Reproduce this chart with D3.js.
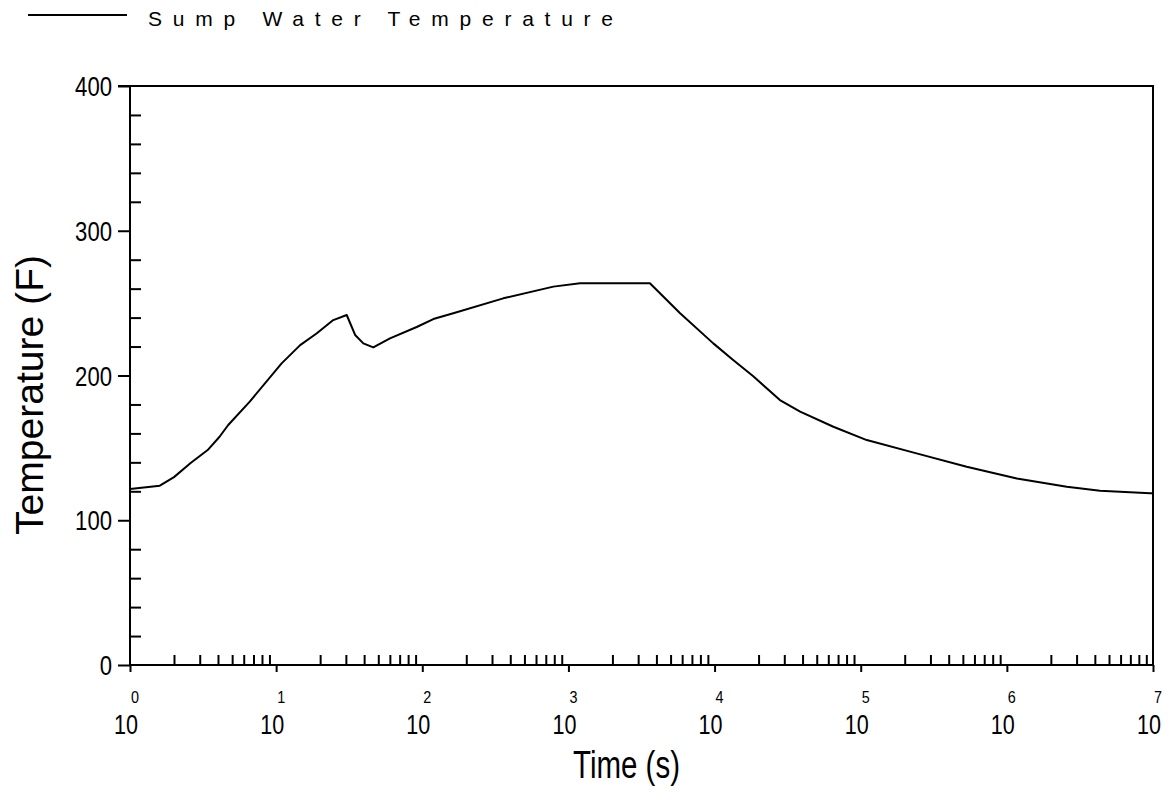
<!DOCTYPE html>
<html><head><meta charset="utf-8">
<script src="https://cdn.jsdelivr.net/npm/d3@7"></script>
<style>
html,body{margin:0;padding:0;background:#fff;}
svg{display:block;}
text{font-family:"Liberation Sans","DejaVu Sans",sans-serif;fill:#000;}
</style></head>
<body>
<svg id="chart" width="1168" height="792"></svg>
<script>
// ---- data ----
const seriesName = "Sump Water Temperature";
const timeSec = [1, 1.6, 2, 2.6, 3.4, 4.1, 4.7, 6.6, 10.9, 14.6, 18.9, 24.6, 30.4, 34.7, 39.5, 46.2, 60.1, 91.6, 119, 163, 358, 789, 1200, 3610, 5810, 9800, 13400, 18400, 28000, 38500, 65000, 110000, 241000, 531000, 1170000, 2570000, 4340000, 9550000, 10000000];
const tempF   = [121.6, 123.9, 129.8, 139.5, 148.5, 157.7, 165.8, 182, 208.4, 221, 229, 238.3, 241.8, 228, 222.2, 219.4, 225.7, 233.5, 239, 243, 253.3, 261.4, 263.7, 263.7, 243, 222.2, 210.7, 199.5, 183, 175, 164.6, 155.4, 146.2, 137, 128.9, 123.1, 120.4, 118.6, 118.6];
const xMajorTicks = [1, 10, 100, 1000, 10000, 100000, 1000000, 10000000];
const xExponents = ["0", "1", "2", "3", "4", "5", "6", "7"];
const yMajorTicks = [0, 100, 200, 300, 400];
const yMinorTicks = [20, 40, 60, 80, 120, 140, 160, 180, 220, 240, 260, 280, 320, 340, 360, 380];
const xTitle = "Time (s)";
const yTitle = "Temperature (F)";

// ---- layout ----
const L = 130, R = 1153, T = 86, B = 665;
const svg = d3.select("#chart");
const x = d3.scaleLog().domain([1, 1e7]).range([L, R]);
const y = d3.scaleLinear().domain([0, 400]).range([B, T]);

const xMinor = x.ticks().filter(v => !xMajorTicks.includes(v));

function styleAxis(g){
  g.select(".domain").remove();
  g.selectAll(".tick line").attr("stroke", "#000").attr("stroke-width", 2);
  g.selectAll(".tick text").remove();
}

// frame
svg.append("path")
  .attr("d", `M${L-12},${T}H${R}V${B}`)
  .attr("fill", "none").attr("stroke", "#000").attr("stroke-width", 2);
svg.append("path")
  .attr("d", `M${L},${T}V${B}H${R}`)
  .attr("fill", "none").attr("stroke", "#000").attr("stroke-width", 2);

// y axis
svg.append("g").attr("transform", `translate(${L},0)`)
  .call(d3.axisLeft(y).tickValues(yMajorTicks).tickSize(12)).call(styleAxis);
svg.append("g").attr("transform", `translate(${L},0)`)
  .call(d3.axisRight(y).tickValues(yMinorTicks).tickSize(11)).call(styleAxis);
// y labels
svg.append("g").selectAll("text").data(yMajorTicks).join("text")
  .attr("x", 112).attr("y", d => y(d) + 10)
  .attr("text-anchor", "end")
  .attr("font-size", 27)
  .attr("textLength", d => String(d).length * 12.3)
  .attr("lengthAdjust", "spacingAndGlyphs")
  .text(d => d);

// x axis
svg.append("g").attr("transform", `translate(0,${B})`)
  .call(d3.axisBottom(x).tickValues(xMajorTicks).tickSize(7)).call(styleAxis);
svg.append("g").attr("transform", `translate(0,${B})`)
  .call(d3.axisTop(x).tickValues(xMinor).tickSize(10)).call(styleAxis);
// x labels (10 with exponent)
const xl = svg.append("g").selectAll("g").data(xMajorTicks).join("g")
  .attr("transform", d => `translate(${x(d)},0)`);
xl.append("text")
  .attr("x", -16).attr("y", 734)
  .attr("font-size", 27)
  .attr("textLength", 24)
  .attr("lengthAdjust", "spacingAndGlyphs")
  .text("10");
xl.append("text")
  .attr("x", 5).attr("y", 703)
  .attr("text-anchor", "middle")
  .attr("font-size", 17)
  .attr("textLength", 8)
  .attr("lengthAdjust", "spacingAndGlyphs")
  .text((d, i) => xExponents[i]);

// axis titles
svg.append("text")
  .attr("x", 573).attr("y", 778)
  .attr("font-size", 39)
  .attr("textLength", 107)
  .attr("lengthAdjust", "spacingAndGlyphs")
  .text(xTitle);
svg.append("text")
  .attr("transform", "translate(43,535) rotate(-90)")
  .attr("font-size", 39)
  .attr("textLength", 280)
  .attr("lengthAdjust", "spacingAndGlyphs")
  .text(yTitle);

// series line
const line = d3.line().x((d, i) => x(timeSec[i])).y(d => y(d)).curve(d3.curveLinear);
svg.append("path")
  .attr("d", line(tempF))
  .attr("fill", "none").attr("stroke", "#000").attr("stroke-width", 2)
  .attr("stroke-linejoin", "round");

// legend
svg.append("line")
  .attr("x1", 28).attr("x2", 127).attr("y1", 15).attr("y2", 15)
  .attr("stroke", "#000").attr("stroke-width", 1.8);
svg.append("text")
  .attr("x", 148).attr("y", 26)
  .attr("font-size", 21)
  .attr("textLength", 465)
  .attr("lengthAdjust", "spacing")
  .text(seriesName);
</script>
</body></html>
